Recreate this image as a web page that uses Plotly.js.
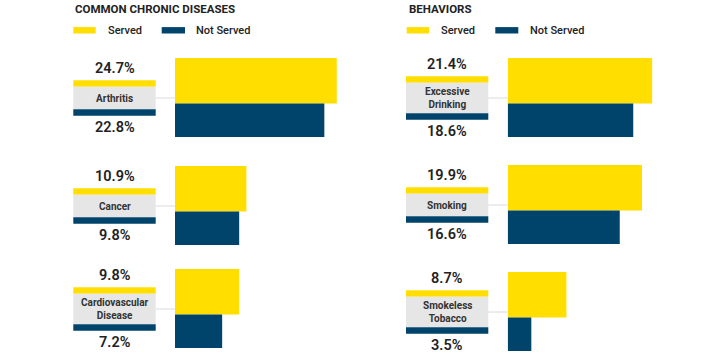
<!DOCTYPE html>
<html><head><meta charset="utf-8">
<script src="https://cdn.plot.ly/plotly-3.0.1.min.js"></script>
<style>html,body{margin:0;padding:0;background:#fff}#chart{width:720px;height:360px}</style>
</head><body><div id="chart"></div>
<script>
// ---- data ----
const panelTitles = ['COMMON CHRONIC DISEASES', 'BEHAVIORS'];
const seriesNames = ['Served', 'Not Served'];
const leftCategories = ['Arthritis', 'Cancer', 'Cardiovascular<br>Disease'];
const leftServed = [24.7, 10.9, 9.8];
const leftNotServed = [22.8, 9.8, 7.2];
const rightCategories = ['Excessive<br>Drinking', 'Smoking', 'Smokeless<br>Tobacco'];
const rightServed = [21.4, 19.9, 8.7];
const rightNotServed = [18.6, 16.6, 3.5];

// ---- style / layout ----
const W = 720, H = 360;
const YELLOW = '#FFDE00', NAVY = '#00446C', GREY = '#E6E6E6', TEXT = '#222222';
const FONT = 'Roboto, Liberation Sans, sans-serif';
const px = v => v / W;
const panels = [
  {cats: leftCategories, s: leftServed, ns: leftNotServed, tops: [58, 166, 269],
   xa: 'x', barStart: 175, barEnd: 360, scale: 6.55, boxL: 73.3, boxR: 155.7,
   titleX: 73, legY: 30.3, sw1: [73.3, 95.7], t1: 105.7, sw2: [161.7, 185], t2: 194.3},
  {cats: rightCategories, s: rightServed, ns: rightNotServed, tops: [58, 165, 272],
   xa: 'x2', barStart: 507.7, barEnd: 705, scale: 6.75, boxL: 406, boxR: 488.3,
   titleX: 406.5, legY: 30.3, sw1: [406.7, 429], t1: 439, sw2: [495.3, 518.3], t2: 527.7}
];
const servedH = 45.5, notServedH = 33.5;

const traces = [], shapes = [], annotations = [];
const layout = {
  width: W, height: H, margin: {l: 0, r: 0, t: 0, b: 0},
  paper_bgcolor: '#fff', plot_bgcolor: 'rgba(0,0,0,0)',
  showlegend: false, barmode: 'overlay',
  yaxis: {range: [H, 0], domain: [0, 1], visible: false, fixedrange: true},
  shapes, annotations
};

panels.forEach((p, i) => {
  const axName = i === 0 ? 'xaxis' : 'xaxis2';
  layout[axName] = {domain: [px(p.barStart), px(p.barEnd)],
    range: [0, (p.barEnd - p.barStart) / p.scale], visible: false, fixedrange: true};
  traces.push({type: 'bar', orientation: 'h', name: seriesNames[0], x: p.s, y: p.tops,
    offset: 0, width: servedH, base: 0, xaxis: p.xa, yaxis: 'y',
    marker: {color: YELLOW, line: {width: 0}}, hoverinfo: 'skip'});
  traces.push({type: 'bar', orientation: 'h', name: seriesNames[1], x: p.ns, y: p.tops,
    offset: servedH, width: notServedH, base: 0, xaxis: p.xa, yaxis: 'y',
    marker: {color: NAVY, line: {width: 0}}, hoverinfo: 'skip'});

  // panel title
  annotations.push({xref: 'paper', yref: 'y', x: px(p.titleX), y: 9, xanchor: 'left', yanchor: 'middle',
    text: '<b>' + panelTitles[i] + '</b>', showarrow: false,
    font: {family: FONT, size: 11.5, color: TEXT}});
  // legend
  shapes.push({type: 'rect', xref: 'paper', yref: 'y', x0: px(p.sw1[0]), x1: px(p.sw1[1]),
    y0: p.legY - 3.2, y1: p.legY + 3.2, fillcolor: YELLOW, line: {width: 0}});
  shapes.push({type: 'rect', xref: 'paper', yref: 'y', x0: px(p.sw2[0]), x1: px(p.sw2[1]),
    y0: p.legY - 3.2, y1: p.legY + 3.2, fillcolor: NAVY, line: {width: 0}});
  annotations.push({xref: 'paper', yref: 'y', x: px(p.t1), y: p.legY, xanchor: 'left', yanchor: 'middle',
    text: seriesNames[0], showarrow: false, font: {family: FONT, size: 11, color: TEXT, weight: 500}});
  annotations.push({xref: 'paper', yref: 'y', x: px(p.t2), y: p.legY, xanchor: 'left', yanchor: 'middle',
    text: seriesNames[1], showarrow: false, font: {family: FONT, size: 11, color: TEXT, weight: 500}});

  // category label boxes
  p.cats.forEach((c, k) => {
    const center = p.tops[k] + 40;
    const twoLine = c.indexOf('<br>') >= 0;
    const gh = twoLine ? 30.5 : 22.7, sh = 6.5;
    const gTop = center - gh / 2, gBot = center + gh / 2;
    const cx = (p.boxL + p.boxR) / 2;
    shapes.push({type: 'line', xref: 'paper', yref: 'y', x0: px(p.boxR), x1: px(p.barStart),
      y0: center, y1: center, line: {color: '#DADADA', width: 1}});
    shapes.push({type: 'rect', xref: 'paper', yref: 'y', x0: px(p.boxL), x1: px(p.boxR),
      y0: gTop - sh, y1: gTop, fillcolor: YELLOW, line: {width: 0}});
    shapes.push({type: 'rect', xref: 'paper', yref: 'y', x0: px(p.boxL), x1: px(p.boxR),
      y0: gTop, y1: gBot, fillcolor: GREY, line: {width: 0}});
    shapes.push({type: 'rect', xref: 'paper', yref: 'y', x0: px(p.boxL), x1: px(p.boxR),
      y0: gBot, y1: gBot + sh, fillcolor: NAVY, line: {width: 0}});
    annotations.push({xref: 'paper', yref: 'y', x: px(cx), y: center, xanchor: 'center', yanchor: 'middle',
      text: '<b>' + c + '</b>', showarrow: false, font: {family: FONT, size: 10, color: '#333'}});
    annotations.push({xref: 'paper', yref: 'y', x: px(cx), y: gTop - sh - 11.5, xanchor: 'center', yanchor: 'middle',
      text: p.s[k].toFixed(1) + '%', showarrow: false, font: {family: FONT, size: 14.5, color: TEXT, weight: 600}});
    annotations.push({xref: 'paper', yref: 'y', x: px(cx), y: gBot + sh + 12, xanchor: 'center', yanchor: 'middle',
      text: p.ns[k].toFixed(1) + '%', showarrow: false, font: {family: FONT, size: 14.5, color: TEXT, weight: 600}});
  });
});

Plotly.newPlot('chart', traces, layout, {staticPlot: true, displayModeBar: false});
</script></body></html>
